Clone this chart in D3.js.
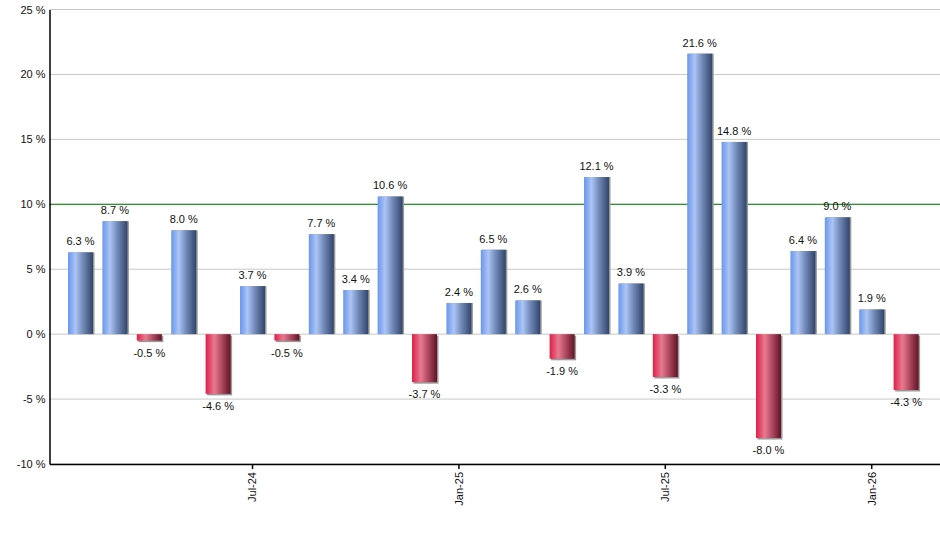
<!DOCTYPE html>
<html>
<head>
<meta charset="utf-8">
<script src="https://cdn.jsdelivr.net/npm/d3@7"></script>
<style>
  body { margin: 0; background: #fff; }
  text { font-family: "Liberation Sans", Arial, sans-serif; }
</style>
</head>
<body>
<div id="chart"></div>
<script>
// Data
const months = [
  "Feb-24", "Mar-24", "Apr-24", "May-24", "Jun-24", "Jul-24", "Aug-24", "Sep-24",
  "Oct-24", "Nov-24", "Dec-24", "Jan-25", "Feb-25", "Mar-25", "Apr-25", "May-25",
  "Jun-25", "Jul-25", "Aug-25", "Sep-25", "Oct-25", "Nov-25", "Dec-25", "Jan-26", "Feb-26"
];
const returns = [
  6.3, 8.7, -0.5, 8.0, -4.6, 3.7, -0.5, 7.7, 3.4, 10.6, -3.7, 2.4, 6.5,
  2.6, -1.9, 12.1, 3.9, -3.3, 21.6, 14.8, -8.0, 6.4, 9.0, 1.9, -4.3
];
const yTicks = [-10, -5, 0, 5, 10, 15, 20, 25];
const xTickLabels = ["Jul-24", "Jan-25", "Jul-25", "Jan-26"];
const targetLine = 10;

const data = months.map((m, i) => ({ month: m, value: returns[i] }));

// Dimensions
const dimensions = {
  width: 940,
  height: 550,
  margin: { top: 9.5, right: 0, bottom: 86, left: 49.5 }
};
dimensions.containerWidth =
  dimensions.width - dimensions.margin.left - dimensions.margin.right;
dimensions.containerHeight =
  dimensions.height - dimensions.margin.top - dimensions.margin.bottom;

const svg = d3
  .select("#chart")
  .append("svg")
  .attr("width", dimensions.width)
  .attr("height", dimensions.height);

// Gradients
const defs = svg.append("defs");
function gradient(id, stops) {
  const g = defs
    .append("linearGradient")
    .attr("id", id)
    .attr("x1", "0%").attr("x2", "100%")
    .attr("y1", "0%").attr("y2", "0%");
  stops.forEach(([offset, color]) =>
    g.append("stop").attr("offset", offset).attr("stop-color", color)
  );
}
gradient("blueGrad", [
  ["0%", "#6b96ee"],
  ["30%", "#abc5f4"],
  ["60%", "#7289b8"],
  ["100%", "#31456a"]
]);
gradient("redGrad", [
  ["0%", "#de1f47"],
  ["35%", "#e87a90"],
  ["65%", "#ad4860"],
  ["100%", "#601425"]
]);

const container = svg
  .append("g")
  .attr("transform", `translate(${dimensions.margin.left}, ${dimensions.margin.top})`);

// Scales
const xScale = d3
  .scaleBand()
  .domain(months)
  .range([0, dimensions.containerWidth])
  .paddingInner(0.273)
  .paddingOuter(0.58)
  .align(0.464);

const yScale = d3
  .scaleLinear()
  .domain([-10, 25])
  .range([dimensions.containerHeight, 0]);

// Grid lines
container
  .append("g")
  .selectAll("line")
  .data(yTicks)
  .join("line")
  .attr("x1", 0)
  .attr("x2", dimensions.containerWidth)
  .attr("y1", (d) => yScale(d))
  .attr("y2", (d) => yScale(d))
  .attr("stroke", "#c8c8c8")
  .attr("stroke-width", 1);

// Target line
container
  .append("line")
  .attr("x1", 0)
  .attr("x2", dimensions.containerWidth)
  .attr("y1", yScale(targetLine))
  .attr("y2", yScale(targetLine))
  .attr("stroke", "#008000")
  .attr("stroke-width", 1);

// Bars: shadow then body
const bars = container.append("g");
bars
  .selectAll("rect.shadow")
  .data(data)
  .join("rect")
  .attr("class", "shadow")
  .attr("x", (d) => xScale(d.month) + 1.5)
  .attr("y", (d) => Math.min(yScale(d.value), yScale(0)) + (d.value < 0 ? 1.5 : 0))
  .attr("width", xScale.bandwidth())
  .attr("height", (d) => Math.abs(yScale(d.value) - yScale(0)))
  .attr("fill", "#9a9a9a");

bars
  .selectAll("rect.bar")
  .data(data)
  .join("rect")
  .attr("class", "bar")
  .attr("x", (d) => xScale(d.month))
  .attr("y", (d) => Math.min(yScale(d.value), yScale(0)))
  .attr("width", xScale.bandwidth())
  .attr("height", (d) => Math.abs(yScale(d.value) - yScale(0)))
  .attr("fill", (d) => (d.value >= 0 ? "url(#blueGrad)" : "url(#redGrad)"));

// Value labels
container
  .append("g")
  .selectAll("text")
  .data(data)
  .join("text")
  .attr("x", (d) => xScale(d.month) + xScale.bandwidth() / 2)
  .attr("y", (d) => (d.value >= 0 ? yScale(d.value) - 7 : yScale(d.value) + 16))
  .attr("text-anchor", "middle")
  .style("font-size", "11px")
  .attr("fill", "#111")
  .text((d) => `${d.value.toFixed(1)} %`);

// Axes
const xAxis = d3.axisBottom(xScale).tickValues(xTickLabels).tickSize(5).tickSizeOuter(0);
const xAxisGroup = container
  .append("g")
  .attr("transform", `translate(0, ${dimensions.containerHeight})`)
  .call(xAxis);
xAxisGroup.select(".domain").attr("stroke", "#000").attr("stroke-width", 1.5);
xAxisGroup.selectAll(".tick line").attr("stroke", "#000").attr("stroke-width", 1.5);
xAxisGroup
  .selectAll(".tick text")
  .attr("transform", "rotate(-90)")
  .attr("text-anchor", "end")
  .attr("x", -8)
  .attr("y", 0)
  .attr("dy", "0.35em")
  .style("font-size", "11px")
  .attr("fill", "#111");

const yAxis = d3
  .axisLeft(yScale)
  .tickValues(yTicks)
  .tickSize(0)
  .tickPadding(4)
  .tickFormat((d) => `${d} %`);
const yAxisGroup = container.append("g").call(yAxis);
yAxisGroup.select(".domain").attr("stroke", "#000").attr("stroke-width", 1.5);
yAxisGroup
  .selectAll(".tick text")
  .style("font-size", "11px")
  .attr("fill", "#111");
</script>
</body>
</html>
